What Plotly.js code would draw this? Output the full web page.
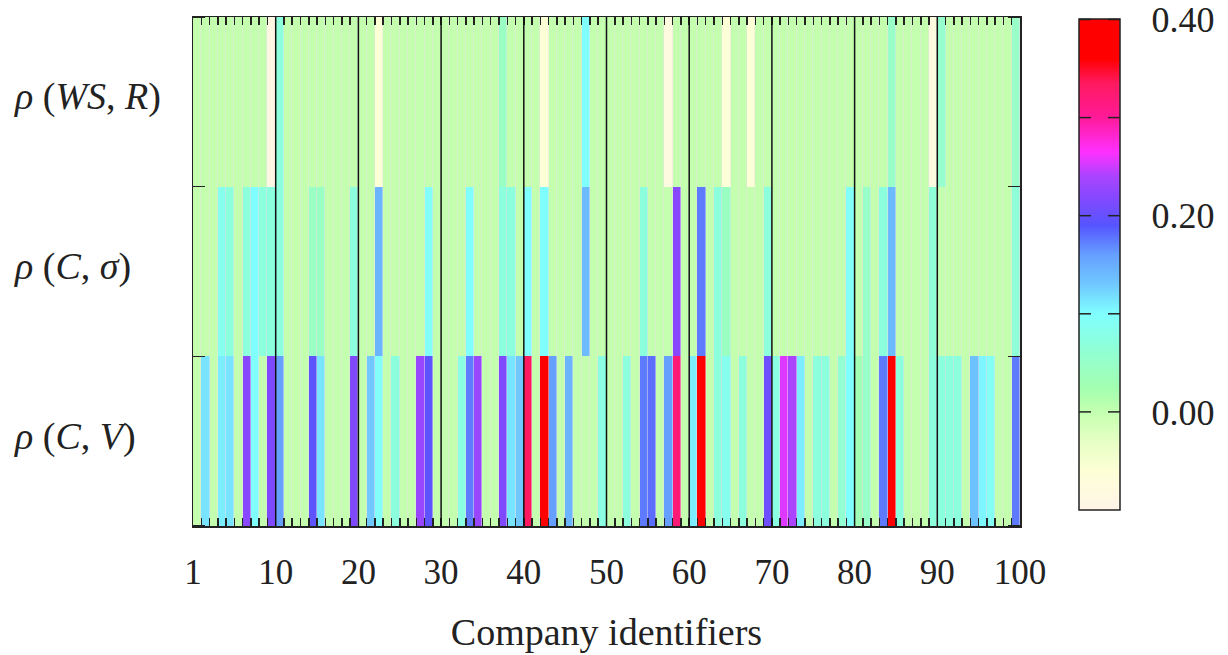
<!DOCTYPE html>
<html>
<head>
<meta charset="utf-8">
<script src="https://cdn.plot.ly/plotly-3.0.1.min.js"></script>
<style>html,body{margin:0;padding:0;background:#fff;}#chart{width:1228px;height:655px;}</style>
</head>
<body>
<div id="chart"></div>
<script>
// ---- data ----
const rowLabels = ['<i>ρ</i> (<i>C</i>, <i>V</i>)', '<i>ρ</i> (<i>C</i>, <i>σ</i>)', '<i>ρ</i> (<i>WS</i>, <i>R</i>)'];

const rhoWSR = [
  0,0,0,0,0,0,0,0,0,-0.09,
  0.07,0,0,0,0,0,0,0,0,0,
  0,0,-0.06,0,0,0,0,0,0,0,
  0,0,0,0,0,0,0,0.045,0,0,
  0,0,-0.06,0,0,0,0,0.10,0,0,
  0,0,0,0,0,0,0,-0.08,0,0,
  0,0,0,0,-0.06,0,0,-0.06,0,0,
  0,0,0,0,0,0,0,0,0,0,
  0,0,0,0,0.05,0,0,0,0,-0.08,
  0.055,0,0,0,0,0,0,0,0,0.05
];

const rhoCSigma = [
  0,0,0,0.085,0.07,0,0.07,0.10,0.07,0.07,
  0.07,0,0,0,0.045,0.045,0,0,0,0.07,
  0,0,0.145,0,0,0,0,0,0.095,0,
  0,0,0,0.10,0,0,0,0.07,0.07,0,
  0.10,0,0.10,0,0,0,0,0.14,0,0,
  0,0,0,0,0.07,0,0,0,0.22,0,
  0,0.175,0,0.07,0.045,0,0,0,0,0.07,
  0,0,0,0,0,0,0,0,0,0.095,
  0,0.05,0,0.07,0.14,0,0,0,0,0.065,
  0,0,0,0,0,0,0,0,0,0.065
];

const rhoCV = [
  0,0.115,0,0.11,0.115,0,0.22,0.10,0,0.215,
  0.16,0,0,0,0.195,0.115,0,0,0,0.215,
  0,0.13,0.095,0,0.07,0,0,0.23,0.195,0,
  0,0,0.075,0.175,0.23,0,0,0.215,0.115,0.13,
  0.335,0,0.39,0.16,0,0.145,0,0,0,0.075,
  0,0,0.07,0,0.175,0.18,0,0.16,0.32,0,
  0.11,0.39,0,0.07,0.085,0,0.07,0,0,0.205,
  0.075,0.255,0.24,0.11,0,0.07,0.07,0,0.06,0.10,
  0.03,0.05,0,0.175,0.39,0.07,0,0,0,0.07,
  0.07,0.07,0.07,0,0.135,0.105,0.09,0,0,0.175
];

const xTickVals = [0,10,20,30,40,50,60,70,80,90,100];
const xTickText = ['1','10','20','30','40','50','60','70','80','90','100'];
const cbTickVals = [0,0.1,0.2,0.3,0.4];
const cbTickText = ['0.00','','0.20','','0.40'];
const zMin = -0.1, zMax = 0.4005;

const scaleVals = [-0.1,-0.06,-0.03,0,0.025,0.05,0.07,0.1,0.13,0.16,0.19,0.22,0.24,0.265,0.3,0.335,0.36,0.4005];
const scaleCols = ['#fff4e8','#fdffd6','#e6ffc4','#c4ffb0','#a2ffb0','#98ffc8','#8cffdc','#80ffff','#70c8ff','#66a0ff','#5555ff','#8848ff','#aa44ff','#ff30ff','#ff1a99','#ff1a60','#ff0000','#ff0000'];

// ---- figure ----
const W = 1228, H = 655;
const M = {l:193, r:208, t:17, b:129};
const plotW = W - M.l - M.r, plotH = H - M.t - M.b;
const cbLeftPx = 1079, cbTopPx = 19, cbBotPx = 510, cbThick = 41, cbTick = 12;
const cbLen = cbBotPx - cbTopPx;
const cbX = (cbLeftPx - M.l) / plotW;
const cbYmid = (H - M.b - (cbTopPx + cbBotPx) / 2) / plotH;
const labelLeftPx = 12;

const colorscale = scaleVals.map((v, i) => [(v - zMin) / (zMax - zMin), scaleCols[i]]);

const mainTrace = {
  type: 'heatmap',
  z: [rhoCV, rhoCSigma, rhoWSR],
  x0: 0.5, dx: 1, y: [0, 1, 2],
  zmin: zMin, zmax: zMax,
  colorscale: colorscale,
  xgap: 0.5,
  hoverinfo: 'skip',
  colorbar: {
    x: cbX, xanchor: 'left', y: cbYmid, yanchor: 'middle',
    len: cbLen, lenmode: 'pixels', thickness: cbThick, thicknessmode: 'pixels',
    xpad: 0, ypad: 0,
    outlinewidth: 1.5, outlinecolor: '#222',
    tickmode: 'array', tickvals: cbTickVals, ticktext: cbTickText,
    ticks: 'outside', ticklen: 24, tickwidth: 1, tickcolor: 'rgba(0,0,0,0)',
    ticklabeloverflow: 'allow',
    tickfont: {family: 'Liberation Serif', size: 36, color: '#222'}
  }
};

const shapes = xTickVals.filter(v => v > 0 && v < 100).map(v => ({
  type: 'line', xref: 'x', yref: 'paper', x0: v, x1: v, y0: 0, y1: 1,
  line: {color: '#111', width: 1.5}, layer: 'above'
}));

const annotations = rowLabels.map((txt, i) => ({
  text: txt, xref: 'paper', yref: 'y', x: (labelLeftPx - M.l) / plotW, y: i,
  xanchor: 'left', yanchor: 'middle', showarrow: false, yshift: 5,
  font: {family: 'Liberation Serif', size: 38, color: '#222'}
}));

const layout = {
  width: W, height: H,
  margin: M,
  paper_bgcolor: '#fff', plot_bgcolor: '#e8e0e8',
  font: {family: 'Liberation Serif', size: 34, color: '#222'},
  showlegend: false,
  xaxis: {
    range: [0, 100], tickmode: 'array', tickvals: xTickVals, ticktext: xTickText,
    ticks: 'inside', ticklen: 8, tickwidth: 1.5, tickcolor: '#222',
    minor: {dtick: 1, tick0: 0, ticks: 'inside', ticklen: 8, tickwidth: 1.5, tickcolor: '#222'},
    showline: true, linecolor: '#222', linewidth: 1.5, mirror: 'allticks',
    showgrid: false, zeroline: false, layer: 'above traces',
    ticklabelstandoff: 14,
    tickfont: {family: 'Liberation Serif', size: 35, color: '#222'},
    title: {text: 'Company identifiers', standoff: 28, font: {family: 'Liberation Serif', size: 38, color: '#222'}}
  },
  yaxis: {
    range: [-0.5, 2.5], tickmode: 'array', tickvals: [0, 1, 2], showticklabels: false,
    ticks: '',
    minor: {tick0: 0.5, dtick: 1, ticks: 'inside', ticklen: 12, tickwidth: 1.5, tickcolor: '#222'},
    showline: true, linecolor: '#222', linewidth: 1.5, mirror: 'allticks',
    showgrid: false, zeroline: false, layer: 'above traces'
  },
  shapes: shapes,
  annotations: annotations
};

// inner tick marks on both edges of the colour box, placed from the rendered colour bar's own geometry
function addColorbarTicks(gd) {
  const fill = gd.querySelector('.cbfill');
  const svgs = gd.querySelectorAll('svg.main-svg');
  if (!fill || !svgs.length) return;
  const top = svgs[svgs.length - 1];
  const sr = top.getBoundingClientRect();
  const fr = fill.getBoundingClientRect();
  const left = fr.left - sr.left, right = fr.right - sr.left;
  const yTop = fr.top - sr.top, yBot = fr.bottom - sr.top;
  const ns = 'http://www.w3.org/2000/svg';
  const g = document.createElementNS(ns, 'g');
  cbTickVals.forEach(t => {
    const y = yBot - (t - zMin) / (zMax - zMin) * (yBot - yTop);
    [[left, left + cbTick], [right - cbTick, right]].forEach(([a, b]) => {
      const ln = document.createElementNS(ns, 'line');
      ln.setAttribute('x1', a); ln.setAttribute('x2', b);
      ln.setAttribute('y1', y); ln.setAttribute('y2', y);
      ln.setAttribute('stroke', '#222'); ln.setAttribute('stroke-width', '1.5');
      g.appendChild(ln);
    });
  });
  top.appendChild(g);
}

Plotly.newPlot('chart', [mainTrace], layout, {displayModeBar: false, staticPlot: true})
  .then(addColorbarTicks);
</script>
</body>
</html>
